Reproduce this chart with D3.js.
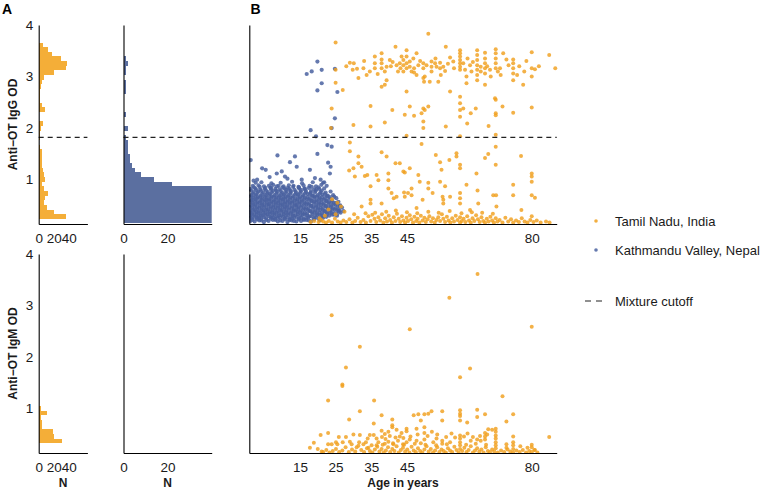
<!DOCTYPE html>
<html><head><meta charset="utf-8">
<script src="https://cdn.jsdelivr.net/npm/d3@7"></script>
<style>
body{margin:0;background:#fff}
svg{display:block;font-family:"Liberation Sans",Arial,sans-serif}
</style></head>
<body><svg id="chart" width="771" height="492"></svg>
<script>
// ---------- data ----------
const odBinStart = 0.15, odBinWidth = 0.09;
const tamilIgGCounts = [1,37,20,11,7,8,12,7,5,8, 7,6,5,4,5,5,2,1,2,2, 3,6,1,0,8,5,2,2,2,3, 5,7,21,36,38,30,18,12,6,1, 0,0,1];
const nepalIgGCounts = [60,110,150,160,130,100,75,50,22,14, 8,5,4,3,3,2,2,2,1,0, 2,0,0,1,0,0,0,0,1,1, 1,0,1,1,2,1,0,0,0,0, 0,0,0];
const tamilIgMCounts = [0,0,31,20,19,5,4,3,11,3, 1,1,0,0,1,0,0,0,1,0, 0,0,0,1,0,0,0,1,0,0, 1,0,1,0,0,0,0,0,0,1, 0,0,0];
const nepalIgMCounts = [];
const cutoff = 1.82;
const odTicks = [1,2,3,4];
const ageTicks = [15,25,35,45,80];
const nTicksTamil = [0,20,40];
const nTicksNepal = [0,20];
const seriesNames = ["Tamil Nadu, India","Kathmandu Valley, Nepal"];

// [age, OD]
const tamilIgG = [
[25,3.66],[51,3.83],[41.8,3.58],[47.7,3.45],[55.9,3.58],
[59.9,3.51],[59.9,3.45],[59.9,3.39],[59.9,3.32],[59.9,3.26],[59.9,3.19],[59.9,3.13],
[64.7,3.51],[64.7,3.42],[64.7,3.32],[64.7,3.22],[64.7,3.13],[64.7,3.03],[64.7,2.93],
[66.9,3.46],[66.9,3.35],[66.9,3.26],[66.9,3.16],[66.9,3.06],
[69.9,3.53],[69.9,3.45],[69.9,3.35],[69.9,3.26],[69.9,3.16],
[72,3.45],[72.9,3.33],[74.8,3.33],[74.8,3.26],[74.8,3.16],[74.8,3.06],
[80,3.47],[80,3.16],[80,3.0],[84.9,3.42],[86.6,3.16],[80.9,3.14],[77.9,3.1],[75.9,3.03],
[36,3.39],[36,3.26],[36,3.16],[37.9,3.45],[37.9,3.33],[37.9,3.26],[37.9,3.16],
[39.3,3.19],[38.8,3.1],[40.2,3.32],[42.1,3.22],[42.5,3.1],[43.2,3.16],
[44,3.32],[44,3.22],[44,3.1],[44.9,3.51],[44.9,3.39],[44.9,3.26],[44.9,3.16],
[45.8,3.29],[45.8,3.19],[46.3,3.1],[47,3.16],[47,3.08],[48.2,3.22],
[49.6,3.26],[49.6,3.16],[49.6,2.97],[49.8,2.9],[51.9,3.29],[51.9,3.19],[51.9,3.1],
[52.9,3.26],[53.3,3.19],[54.3,3.16],[54.5,3.03],[54.3,3.27],[55.2,3.19],[55.7,3.11],
[57.1,3.37],[58,3.29],[58.2,3.16],[60.8,3.26],[61.3,3.13],[61.7,3.0],[62.7,3.22],[63.1,3.1],
[65.7,3.19],[65.7,3.1],[68.3,3.13],[68.5,3.0],[71.1,3.16],[71.3,3.03],
[29,3.27],[29.8,3.13],[30.1,3.26],[31.4,2.97],[32.8,3.16],[33.7,3.03],[34.6,3.1],
[27,2.74],[25,3.13],[25,2.88],[37.9,2.8],[38.8,2.84],[39.3,2.93],[44.9,2.71],[50,3.0],
[51.4,2.9],[57.1,2.71],[59.9,2.61],[66.9,2.84],[69.7,2.58],[74.8,2.93],[77.6,2.84],
[43,3.26],[43.5,3.39],[47.7,3.03],[53.8,2.9],[61.7,2.87],
[40.5,3.2],[41,3.28],[46.8,3.35],[48.7,3.3],[50.5,3.22],[53,3.35],[56.5,3.25],[62,3.35],
[63.5,3.28],[67.5,3.2],[70.5,3.1],[73.5,3.22],[76.5,3.2],[78.5,3.3],[82,3.2],[36.8,3.05],[33,3.3],[31,3.15],[28,3.2],
[23.9,2.38],[23.7,2.0],[30,2.06],[34.8,2.43],[34.8,2.03],[38.8,2.11],[40.9,2.35],[44.4,2.26],[45.8,2.42],
[47,2.24],[49.1,2.29],[49.6,2.38],[49.6,2.13],[49.6,2.0],[51,2.42],[50,2.35],[55.9,2.03],[59.9,2.48],
[59.9,2.35],[59.9,2.22],[59.9,1.84],[60.8,2.38],[61.9,2.09],[62.9,2.29],[64.3,2.38],[67.9,2.04],[69.9,2.55],
[69.9,2.29],[69.9,2.25],[69.9,1.87],[71.8,2.42],[74.8,2.3],[80,2.4],[44.9,1.85],
[29,1.72],[29,1.55],[28.8,1.18],[30,1.22],[30.4,1.06],[31.4,1.45],[31.4,1.32],[32.3,1.25],[33.2,1.07],
[33.9,1.09],[34.8,0.87],[34.8,0.61],[34.8,0.54],[36.5,1.09],[37,0.99],[37.9,1.53],[39.3,1.45],[39.8,1.12],
[39.8,0.99],[39.8,0.83],[40.7,0.74],[41.3,0.64],[41.8,1.32],[43,1.32],[44,1.16],[44.4,1.14],[44.2,0.75],
[44.4,0.67],[45.8,1.22],[46.3,0.83],[46.3,0.7],[48.2,1.09],[48.6,0.96],[49.1,1.69],[51,0.94],[51,0.83],
[53.1,1.48],[54.3,1.34],[54.7,1.19],[54.3,0.96],[55,0.67],[55.2,0.61],[55.2,0.54],[55.7,0.87],[56.9,1.38],
[58.9,1.51],[58.9,1.45],[59.9,1.29],[59.9,1.22],[59.9,0.74],[59.9,0.64],[59.9,0.54],[61.7,0.9],[64.5,1.12],
[64.8,0.79],[66.9,1.42],[67.8,1.5],[69.9,1.64],[69.9,1.29],[69.2,0.7],[70,0.7],[74.8,0.9],[77,1.46],
[80,1.12],[80,1.06],[80,0.96],[80,0.7],[74.8,0.7],[80.9,0.65],[45.3,0.74],[49.4,0.61],[52.2,0.74],
[57.1,0.67],[42.1,0.67],[37.9,0.54],[32.3,0.48],[65,0.54],[70.1,0.48],[77.1,0.41],[62.7,0.41],[47.7,0.45],
[24,0.62],[25.5,0.55],[26.5,0.48],[23,0.42],[27.5,0.38],[25,0.33],[22,0.3],[20.5,0.25],[19,0.2],[18,0.18],[21.5,0.19],
[20.2,0.18],[21,0.22],[22.3,0.17],[23.1,0.2],[24,0.17],[24.8,0.24],[25.6,0.19],[26.4,0.17],[27.2,0.21],[28,0.18],
[28.9,0.23],[29.7,0.17],[30.5,0.2],[31.2,0.26],[32,0.18],[32.8,0.22],[33.5,0.17],[34.2,0.29],[34.8,0.2],[35.3,0.32],
[35.9,0.24],[36.4,0.18],[37,0.27],[37.5,0.21],[38,0.33],[38.4,0.17],[38.9,0.25],[39.4,0.19],[39.9,0.3],[40.3,0.22],
[40.8,0.17],[41.3,0.27],[41.8,0.2],[42.2,0.34],[42.7,0.24],[43.1,0.18],[43.6,0.29],[44,0.21],[44.5,0.17],[44.9,0.26],
[45.3,0.2],[45.8,0.31],[46.2,0.23],[46.7,0.17],[47.1,0.28],[47.6,0.2],[48,0.24],[48.5,0.17],[48.9,0.3],[49.4,0.21],
[49.9,0.26],[50.3,0.18],[50.8,0.23],[51.3,0.29],[51.8,0.19],[52.3,0.25],[52.8,0.17],[53.3,0.22],[53.8,0.27],[54.3,0.2],
[54.8,0.33],[55.2,0.24],[55.7,0.18],[56.2,0.28],[56.7,0.21],[57.2,0.17],[57.7,0.25],[58.2,0.19],[58.7,0.3],[59.2,0.22],
[59.9,0.17],[59.9,0.27],[60.4,0.2],[60.9,0.24],[61.4,0.18],[61.9,0.29],[62.4,0.21],[62.9,0.17],[63.4,0.25],[63.9,0.2],
[64.4,0.31],[64.9,0.23],[65.4,0.18],[65.9,0.27],[66.4,0.2],[66.9,0.17],[67.4,0.24],[67.9,0.19],[68.4,0.28],[68.9,0.21],
[69.4,0.17],[69.9,0.25],[70.4,0.19],[71,0.22],[71.8,0.17],[72.6,0.26],[73.4,0.19],[74.2,0.23],[74.8,0.17],[75.6,0.21],
[76.4,0.18],[77.2,0.25],[78,0.19],[78.8,0.17],[79.6,0.22],[80,0.29],[80.5,0.18],[81.4,0.21],[82.5,0.17],[84,0.19],[85,0.17],
[36.1,0.36],[39.2,0.38],[41.9,0.4],[45,0.37],[47.9,0.35],[51,0.38],[53.9,0.36],[57,0.39],[60.3,0.35],[63.2,0.37],
[66.1,0.36],[69.1,0.34],[33.4,0.35],[30.2,0.33]
];

const nepalIgG = [
[1.2,1.38],[8.7,1.47],[4.4,1.22],[5.4,1.19],[12.2,1.34],[13.6,1.45],[14.1,1.25],
[16.9,3.05],[18.3,3.1],[19.9,3.29],[21.1,3.13],[21.1,2.87],[19.9,2.73],[25.5,2.7],[24.8,3.15],
[24.8,2.19],[23.9,2.0],[18,1.96],[19.5,1.84],[22.7,1.67],[23.9,1.64],[19.9,1.5],
[22.9,1.33],[23.6,1.25],[23.4,1.12],[17.8,1.19],[19.2,1.03],[8.5,1.12],[9.9,1.16],[10.8,1.06],
[20.8,1.0],[21.8,0.95],[15.5,1.0],[6.5,1.05],[3,1.0],[2,0.98],[11.5,1.02],
[1.1,0.2],[2.3,0.19],[3.6,0.21],[4.9,0.18],[6.2,0.2],[7.4,0.22],[8.8,0.19],[10.1,0.2],[11.5,0.18],[12.7,0.21],[14.0,0.19],[15.3,0.2],[16.8,0.22],[18.1,0.19],
[1.6,0.25],[2.9,0.26],[4.1,0.24],[5.5,0.25],[6.8,0.27],[8.0,0.24],[9.4,0.26],[10.7,0.25],[12.1,0.23],[13.4,0.26],[14.7,0.25],[16.0,0.24],[17.4,0.27],[18.9,0.25],[20.3,0.24],[21.5,0.26],
[1.0,0.3],[2.2,0.31],[3.4,0.29],[4.6,0.3],[5.9,0.32],[7.2,0.3],[8.5,0.29],[9.8,0.31],[11.0,0.3],[12.4,0.28],[13.7,0.31],[15.1,0.3],[16.3,0.32],[17.7,0.29],[19.2,0.3],[20.6,0.31],[21.9,0.29],[23.2,0.3],[24.6,0.32],
[1.5,0.35],[2.8,0.36],[4.0,0.34],[5.3,0.35],[6.5,0.37],[7.8,0.35],[9.1,0.34],[10.4,0.36],[11.7,0.35],[13.0,0.33],[14.4,0.36],[15.7,0.35],[17.0,0.34],[18.4,0.37],[19.8,0.35],[21.2,0.34],[22.6,0.36],[23.9,0.35],[25.3,0.33],[26.4,0.36],
[1.1,0.4],[2.4,0.41],[3.5,0.39],[4.8,0.4],[6.1,0.42],[7.3,0.4],[8.7,0.39],[9.9,0.41],[11.2,0.4],[12.6,0.38],[13.9,0.41],[15.2,0.4],[16.6,0.42],[17.9,0.39],[19.3,0.4],[20.7,0.41],[22.0,0.39],[23.5,0.4],[24.8,0.42],[26.1,0.4],[27.2,0.39],
[1.7,0.45],[3.0,0.46],[4.3,0.44],[5.6,0.45],[6.9,0.47],[8.2,0.45],[9.5,0.44],[10.8,0.46],[12.0,0.45],[13.3,0.43],[14.6,0.46],[16.1,0.45],[17.4,0.44],[18.8,0.47],[20.1,0.45],[21.4,0.44],[22.9,0.46],[24.2,0.45],[25.7,0.43],[26.8,0.46],
[1.2,0.5],[2.5,0.51],[3.8,0.49],[5.0,0.5],[6.3,0.52],[7.6,0.5],[8.9,0.49],[10.2,0.51],[11.4,0.5],[12.8,0.48],[14.1,0.51],[15.5,0.5],[16.8,0.52],[18.2,0.49],[19.6,0.5],[20.9,0.51],[22.3,0.49],[23.7,0.5],[25.0,0.52],[26.3,0.5],
[1.8,0.55],[3.1,0.56],[4.4,0.54],[5.8,0.55],[7.0,0.57],[8.3,0.55],[9.6,0.54],[10.9,0.56],[12.2,0.55],[13.6,0.53],[14.9,0.56],[16.3,0.55],[17.6,0.54],[19.0,0.57],[20.4,0.55],[21.7,0.54],[23.1,0.56],[24.5,0.55],[25.8,0.57],
[1.3,0.6],[2.6,0.61],[3.9,0.59],[5.2,0.6],[6.4,0.62],[7.7,0.6],[9.0,0.59],[10.3,0.61],[11.6,0.6],[12.9,0.58],[14.3,0.61],[15.6,0.6],[17.0,0.62],[18.3,0.59],[19.7,0.6],[21.0,0.61],[22.5,0.59],[24.0,0.6],
[1.9,0.65],[3.2,0.66],[4.5,0.64],[5.7,0.65],[7.1,0.67],[8.4,0.65],[9.7,0.64],[11.0,0.66],[12.3,0.65],[13.7,0.63],[15.0,0.66],[16.4,0.65],[17.8,0.64],[19.1,0.67],[20.5,0.65],[22.0,0.64],[23.4,0.66],[25.2,0.64],
[1.4,0.7],[2.7,0.71],[4.0,0.69],[5.4,0.7],[6.6,0.72],[7.9,0.7],[9.2,0.69],[10.5,0.71],[11.8,0.7],[13.1,0.68],[14.5,0.71],[15.9,0.7],[17.2,0.72],[18.6,0.69],[20.0,0.7],[21.3,0.71],[22.8,0.69],[24.3,0.7],
[2.0,0.76],[3.3,0.77],[4.7,0.75],[6.0,0.76],[7.4,0.78],[8.6,0.76],[10.0,0.75],[11.3,0.77],[12.5,0.76],[13.9,0.74],[15.3,0.77],[16.7,0.76],[18.0,0.75],[19.4,0.78],[20.8,0.76],[22.2,0.75],[23.6,0.77],
[1.1,0.82],[2.5,0.83],[3.9,0.81],[5.1,0.82],[6.7,0.84],[8.1,0.82],[9.3,0.81],[10.6,0.83],[12.0,0.82],[13.5,0.8],[14.8,0.83],[16.2,0.82],[17.5,0.84],[19.0,0.81],[20.4,0.82],[21.8,0.83],
[1.8,0.88],[3.4,0.89],[4.9,0.87],[6.3,0.88],[7.5,0.9],[9.0,0.88],[10.4,0.87],[11.9,0.89],[13.2,0.88],[14.6,0.86],[16.0,0.89],[17.7,0.88],[19.5,0.87],[21.0,0.9],[22.5,0.88],
[2.6,0.94],[4.2,0.95],[7.0,0.93],[9.6,0.94],[12.8,0.96],[15.6,0.93],[18.6,0.95],[21.5,0.94],
[1.7,0.22],[3.0,0.23],[4.2,0.21],[5.6,0.22],[6.9,0.24],[8.1,0.22],[9.5,0.21],[10.8,0.23],[12.1,0.22],[13.3,0.2],[14.7,0.23],[16.1,0.22],[17.5,0.21],[19.0,0.23],[20.6,0.21],
[1.2,0.27],[2.4,0.28],[3.6,0.26],[4.9,0.27],[6.2,0.29],[7.5,0.27],[8.8,0.26],[10.2,0.28],[11.4,0.27],[12.8,0.25],[14.1,0.28],[15.4,0.27],[16.8,0.26],[18.2,0.29],[19.6,0.27],[21.0,0.26],[22.4,0.28],
[1.6,0.32],[2.9,0.33],[4.1,0.31],[5.3,0.32],[6.6,0.34],[7.9,0.32],[9.2,0.31],[10.5,0.33],[11.7,0.32],[13.1,0.3],[14.4,0.33],[15.8,0.32],[17.1,0.31],[18.5,0.34],[19.9,0.32],[21.3,0.31],[22.6,0.33],[24.0,0.32],[25.4,0.3],
[1.0,0.37],[2.2,0.38],[3.4,0.36],[4.7,0.37],[5.9,0.39],[7.2,0.37],[8.4,0.36],[9.8,0.38],[11.1,0.37],[12.4,0.35],[13.7,0.38],[15.0,0.37],[16.4,0.36],[17.7,0.39],[19.1,0.37],[20.5,0.36],[21.9,0.38],[23.3,0.37],[24.6,0.35],[25.9,0.38],
[1.8,0.42],[3.0,0.43],[4.2,0.41],[5.5,0.42],[6.8,0.44],[8.0,0.42],[9.3,0.41],[10.6,0.43],[11.9,0.42],[13.2,0.4],[14.5,0.43],[15.9,0.42],[17.3,0.41],[18.6,0.44],[20.0,0.42],[21.4,0.41],[22.7,0.43],[24.1,0.42],[25.5,0.4],
[1.0,0.47],[2.3,0.48],[3.6,0.46],[4.9,0.47],[6.2,0.49],[7.5,0.47],[8.8,0.46],[10.1,0.48],[11.3,0.47],[12.7,0.45],[14.0,0.48],[15.3,0.47],[16.7,0.46],[18.1,0.49],[19.5,0.47],[20.8,0.46],[22.2,0.48],[23.6,0.47],[25.0,0.45],[26.2,0.48],
[1.8,0.52],[3.1,0.53],[4.4,0.51],[5.7,0.52],[6.9,0.54],[8.2,0.52],[9.5,0.51],[10.8,0.53],[12.1,0.52],[13.5,0.5],[14.8,0.53],[16.2,0.52],[17.5,0.51],[18.9,0.54],[20.2,0.52],[21.6,0.51],[23.0,0.53],[24.4,0.52],[25.6,0.5],
[1.1,0.57],[2.4,0.58],[3.7,0.56],[5.0,0.57],[6.3,0.59],[7.6,0.57],[8.9,0.56],[10.2,0.58],[11.5,0.57],[12.8,0.55],[14.2,0.58],[15.5,0.57],[16.9,0.56],[18.2,0.59],[19.6,0.57],[21.0,0.56],[22.4,0.58],[23.8,0.57],[25.2,0.55],
[1.7,0.62],[3.0,0.63],[4.3,0.61],[5.6,0.62],[6.9,0.64],[8.2,0.62],[9.5,0.61],[10.8,0.63],[12.2,0.62],[13.5,0.6],[14.9,0.63],[16.2,0.62],[17.6,0.61],[19.0,0.64],[20.4,0.62],[21.8,0.61],[23.2,0.63],
[1.2,0.67],[2.5,0.68],[3.8,0.66],[5.1,0.67],[6.4,0.69],[7.7,0.67],[9.0,0.66],[10.3,0.68],[11.6,0.67],[12.9,0.65],[14.3,0.68],[15.7,0.67],[17.1,0.66],[18.4,0.69],[19.8,0.67],[21.2,0.66],[22.6,0.68],[24.6,0.67],
[1.8,0.73],[3.1,0.74],[4.4,0.72],[5.8,0.73],[7.1,0.75],[8.4,0.73],[9.7,0.72],[11.0,0.74],[12.3,0.73],[13.6,0.71],[15.0,0.74],[16.4,0.73],[17.8,0.72],[19.2,0.75],[20.6,0.73],[22.0,0.72],
[1.3,0.79],[2.7,0.8],[4.1,0.78],[5.5,0.79],[6.9,0.81],[8.3,0.79],[9.6,0.78],[11.0,0.8],[12.4,0.79],[13.8,0.77],[15.2,0.8],[16.6,0.79],[18.1,0.78],[19.6,0.81],[21.1,0.79],
[2.1,0.85],[3.7,0.86],[5.3,0.84],[6.9,0.85],[8.5,0.87],[10.1,0.85],[11.6,0.84],[13.1,0.86],[14.7,0.85],[16.4,0.83],[18.3,0.86],[20.2,0.85]
];

const tamilIgM = [
[64.8,3.61],[56.9,3.15],[23.9,2.81],[45.8,2.54],[80,2.59],[31.8,2.2],[27.9,1.8],[26.9,1.47],[26.9,1.44],
[62.7,1.78],[59.9,1.61],[22.9,1.16],[35.8,1.16],[31.8,0.95],[37.9,0.87],[28.8,0.79],[35.7,0.71],[71.8,1.24],
[74.8,0.89],[72.9,0.75],[61.9,0.73],[66.9,0.89],[64.7,0.98],[64.7,0.84],[59.9,0.97],[59.9,0.9],[59.9,0.86],
[59.9,0.77],[54.9,0.95],[54.9,0.77],[51.9,0.95],[51,0.9],[49.9,0.89],[48.2,0.89],[46.9,0.87],[48.9,0.77],
[49.9,0.64],[49.9,0.53],[47.7,0.61],[44.9,0.61],[44.9,0.56],[40.9,0.79],[40.9,0.68],[40.9,0.64],[39.8,0.55],
[38.8,0.51],[37.9,0.57],[42.1,0.59],[43.5,0.53],[35.7,0.49],[34.6,0.49],[34,0.42],[33.5,0.35],[31.8,0.49],
[31.6,0.35],[30,0.5],[29,0.36],[27.9,0.45],[25.9,0.45],[27,0.35],[22.9,0.53],[20.8,0.49],[18.9,0.34],
[17.8,0.24],[20,0.22],[21.1,0.17],[22.9,0.31],[23.9,0.31],[25.1,0.35],[25.5,0.31],[69.9,0.61],[69.9,0.55],
[69.9,0.48],[69.9,0.42],[69.9,0.35],[69.9,0.29],[68.9,0.59],[67.8,0.6],[66.9,0.53],[66.9,0.46],[66.9,0.4],
[64.7,0.4],[65.7,0.38],[62.9,0.38],[59.9,0.48],[59.9,0.42],[59.9,0.35],[59.9,0.29],[74.8,0.46],[74.8,0.35],
[74.8,0.29],[74.8,0.22],[80,0.3],[80,0.25],[80.9,0.2],[72.9,0.31],[72.9,0.24],[84.9,0.45],[54.9,0.38],
[54.9,0.32],[57.1,0.35],[52.4,0.35],[53.3,0.42],[49.9,0.4],[48.9,0.33],[47.7,0.38],[45.8,0.4],[44.9,0.35],
[43.9,0.31],[42.5,0.38],[41.1,0.33],[39.8,0.36],[38.8,0.32],[37,0.35],[36.5,0.29],[35.1,0.29],[34.2,0.24],
[32.8,0.31],[30.9,0.25],[29.5,0.31],
[46,0.46],[48,0.5],[50.8,0.47],[52,0.55],[53.5,0.5],[56,0.45],[57.5,0.52],[58.5,0.44],[61,0.46],[62,0.52],
[63.5,0.45],[65.5,0.47],[67.5,0.5],[36.5,0.42],[38,0.45],[39,0.41],[40.2,0.47],[41.8,0.44],[43,0.46],[44,0.43],
[21.5,0.16],[22.4,0.2],[23.3,0.15],[24.2,0.18],[25.1,0.22],[26,0.16],[26.9,0.19],[27.8,0.25],[28.7,0.16],[29.6,0.21],
[30.5,0.17],[31.4,0.28],[32.2,0.2],[33,0.16],[33.8,0.23],[34.6,0.18],[35.3,0.15],[36,0.21],[36.7,0.26],[37.3,0.17],
[37.9,0.22],[38.5,0.15],[39.1,0.19],[39.7,0.25],[40.3,0.16],[40.9,0.22],[41.5,0.18],[42.1,0.27],[42.7,0.15],[43.3,0.2],
[43.9,0.24],[44.5,0.17],[45.1,0.21],[45.7,0.15],[46.3,0.26],[46.9,0.19],[47.5,0.16],[48.1,0.23],[48.7,0.18],[49.3,0.15],
[49.9,0.21],[50.5,0.27],[51.1,0.17],[51.7,0.22],[52.3,0.15],[52.9,0.19],[53.5,0.25],[54.1,0.16],[54.7,0.21],[55.3,0.18],
[55.9,0.15],[56.5,0.23],[57.1,0.19],[57.7,0.16],[58.3,0.26],[58.9,0.2],[59.5,0.15],[59.9,0.22],[60.5,0.18],[61.1,0.24],
[61.7,0.16],[62.3,0.2],[62.9,0.27],[63.5,0.15],[64.1,0.19],[64.7,0.23],[65.3,0.17],[65.9,0.21],[66.5,0.15],[67.1,0.25],
[67.7,0.18],[68.3,0.16],[68.9,0.21],[69.5,0.17],[69.9,0.23],[70.5,0.15],[71.4,0.19],[72.3,0.16],[73.2,0.21],[74,0.17],
[74.8,0.15],[75.7,0.19],[76.6,0.16],[77.5,0.2],[78.4,0.15],[79.3,0.18],[80,0.16],[80.7,0.2],[81.6,0.15],
[38.2,0.3],[41.2,0.31],[44.2,0.3],[47.2,0.32],[50.2,0.3],[53.2,0.29],[56.2,0.31],[61.6,0.3],[64.3,0.32],[67.2,0.3],
[76.8,0.27],[78.8,0.24]
];
const nepalIgM = [];

// ---------- styling / layout ----------
const colOrangeHist = "#F4AE38", colBlueHist = "#5B6FA0";
const colOrangePt = "#F0A01E", colBluePt = "#4A62A0";
const rowsLayout = [
  {y0:25, y1:224, counts:[tamilIgGCounts, nepalIgGCounts], pts:[tamilIgG, nepalIgG], cutoff:true},
  {y0:254, y1:453, counts:[tamilIgMCounts, nepalIgMCounts], pts:[tamilIgM, nepalIgM], cutoff:false}
];
const histCols = [
  {x0:38.7, x1:87.4, dom:[0,65], ticks:nTicksTamil, fill:colOrangeHist},
  {x0:123.5, x1:211.7, dom:[0,40], ticks:nTicksNepal, fill:colBlueHist}
];
const scat = {x0:249.3, x1:556.7, dom:[0.8,87]};
const odDomain = [0.14, 4];
const tickFont = "13.5px";

const svg = d3.select("#chart");
const defs = svg.append("defs");
let clipId = 0;
function clip(x0,y0,x1,y1){
  const id = "c"+(clipId++);
  defs.append("clipPath").attr("id",id).append("rect")
    .attr("x",x0).attr("y",y0).attr("width",x1-x0).attr("height",y1-y0);
  return "url(#"+id+")";
}
function styleAxis(g){
  g.select(".domain").attr("stroke","#000").attr("stroke-width",1.1);
  g.selectAll("text").attr("fill","#1a1a1a").style("font-size",tickFont)
   .style("font-family",'"Liberation Sans",Arial,sans-serif');
}

rowsLayout.forEach((row) => {
  const y = d3.scaleLinear().domain(odDomain).range([row.y1, row.y0]);

  histCols.forEach((hc, ci) => {
    const x = d3.scaleLinear().domain(hc.dom).range([hc.x0, hc.x1]);
    const g = svg.append("g");
    const bars = row.counts[ci].map((c,k)=>({c, lo:odBinStart+k*odBinWidth, hi:odBinStart+(k+1)*odBinWidth})).filter(d=>d.c>0);
    g.append("g").attr("clip-path", clip(hc.x0, row.y0, hc.x1, row.y1))
      .selectAll("rect").data(bars).join("rect")
      .attr("x", x(0)).attr("width", d=>x(d.c)-x(0))
      .attr("y", d=>y(d.hi)).attr("height", d=>y(d.lo)-y(d.hi))
      .attr("fill", hc.fill).attr("shape-rendering","crispEdges");
    if (row.cutoff) {
      g.append("line").attr("x1",hc.x0).attr("x2",hc.x1).attr("y1",y(cutoff)).attr("y2",y(cutoff))
        .attr("stroke","#222").attr("stroke-width",1.1).attr("stroke-dasharray","5,4");
    }
    const ya = g.append("g").attr("transform",`translate(${hc.x0},0)`)
      .call(d3.axisLeft(y).tickValues(ci===0?odTicks:[]).tickSize(0).tickSizeOuter(0).tickPadding(5.5).tickFormat(d3.format("d")));
    styleAxis(ya);
    const xa = g.append("g").attr("transform",`translate(0,${row.y1})`)
      .call(d3.axisBottom(x).tickValues(hc.ticks).tickSize(0).tickSizeOuter(0).tickPadding(9.5).tickFormat(d3.format("d")));
    styleAxis(xa);
  });

  const x = d3.scaleLinear().domain(scat.dom).range([scat.x0, scat.x1]);
  const g = svg.append("g");
  const pg = g.append("g").attr("clip-path", clip(scat.x0, row.y0-3, scat.x1+3, row.y1));
  pg.selectAll("circle.n").data(row.pts[1]).join("circle").attr("class","n")
    .attr("cx",d=>x(d[0])).attr("cy",d=>y(d[1])).attr("r",2.1)
    .attr("fill",colBluePt).attr("fill-opacity",0.85);
  pg.selectAll("circle.t").data(row.pts[0]).join("circle").attr("class","t")
    .attr("cx",d=>x(d[0])).attr("cy",d=>y(d[1])).attr("r",2)
    .attr("fill",colOrangePt).attr("fill-opacity",0.82);
  if (row.cutoff) {
    g.append("line").attr("x1",scat.x0).attr("x2",scat.x1).attr("y1",y(cutoff)).attr("y2",y(cutoff))
      .attr("stroke","#222").attr("stroke-width",1.1).attr("stroke-dasharray","5,4");
  }
  const ya = g.append("g").attr("transform",`translate(${scat.x0},0)`)
    .call(d3.axisLeft(y).tickValues([]).tickSize(0).tickSizeOuter(0));
  styleAxis(ya);
  const xa = g.append("g").attr("transform",`translate(0,${row.y1})`)
    .call(d3.axisBottom(x).tickValues(ageTicks).tickSize(0).tickSizeOuter(0).tickPadding(9.5));
  styleAxis(xa);
});

const yTitles = ["Anti\u2212OT IgG OD","Anti\u2212OT IgM OD"];
rowsLayout.forEach((row,i)=>{
  svg.append("text").attr("transform",`translate(16.5,${(row.y0+row.y1)/2}) rotate(-90)`)
    .attr("text-anchor","middle").style("font-size","12px").style("font-weight","bold")
    .attr("fill","#1a1a1a").text(yTitles[i]);
});
histCols.forEach(hc=>{
  svg.append("text").attr("x",(hc.x0+hc.x1)/2).attr("y",487).attr("text-anchor","middle")
    .style("font-size","12px").style("font-weight","bold").attr("fill","#1a1a1a").text("N");
});
svg.append("text").attr("x",(scat.x0+scat.x1)/2).attr("y",486.5).attr("text-anchor","middle")
  .style("font-size","12px").style("font-weight","bold").attr("fill","#1a1a1a").text("Age in years");
svg.append("text").attr("x",2).attr("y",13.5).style("font-size","14px").style("font-weight","bold").text("A");
svg.append("text").attr("x",250.5).attr("y",13.5).style("font-size","14px").style("font-weight","bold").text("B");

// legend
const legY = [221, 250];
const legColors = [colOrangePt, colBluePt];
seriesNames.forEach((s,i)=>{
  svg.append("circle").attr("cx",596).attr("cy",legY[i]).attr("r",1.8).attr("fill",legColors[i]).attr("fill-opacity",0.85);
  svg.append("text").attr("x",615).attr("y",legY[i]).attr("dy","0.36em").style("font-size","13px")
    .attr("fill","#1a1a1a").text(s);
});
svg.append("line").attr("x1",585).attr("x2",606).attr("y1",301).attr("y2",301)
  .attr("stroke","#222").attr("stroke-width",1.1).attr("stroke-dasharray","6,5");
svg.append("text").attr("x",615).attr("y",301).attr("dy","0.36em").style("font-size","13px")
  .attr("fill","#1a1a1a").text("Mixture cutoff");
</script>
</body></html>
